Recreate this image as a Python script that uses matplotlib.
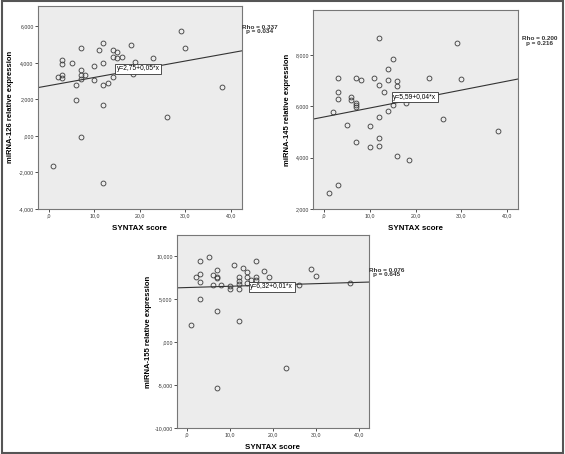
import numpy as np
import matplotlib.pyplot as plt
from matplotlib.patches import Rectangle
from matplotlib.ticker import FuncFormatter

# SYNTAX score vs miRNA relative expression
syntax_126 = [29, 30, 38, 26, 23, 18, 19, 18.5, 12, 11, 7, 14, 15, 14, 15, 16, 12, 5,
              3, 3, 3, 3, 2, 10, 7, 7, 8, 7, 10, 14, 13, 12, 6, 6, 12, 7, 1, 12]
mir_126 = [5.72, 4.84, 2.66, 1.01, 4.26, 4.99, 4.02, 3.40, 5.08, 4.70, 4.83, 4.68, 4.59,
           4.31, 4.26, 4.33, 4.00, 3.98, 4.13, 3.93, 3.36, 3.17, 3.21, 3.80, 3.60, 3.36,
           3.32, 3.10, 3.08, 3.25, 2.88, 2.77, 2.77, 1.98, 1.71, -0.06, -1.65, -2.59]

syntax_145 = [12, 29, 15, 14, 3, 7, 8, 11, 14, 16, 23, 30, 12, 16, 13, 3, 3, 6, 6, 7,
              7, 7, 18, 15, 2, 14, 12, 26, 5, 10, 38, 12, 7, 10, 12, 16, 18.5, 3, 1]
mir_145 = [8.68, 8.49, 7.87, 7.48, 7.10, 7.13, 7.04, 7.13, 7.04, 7.01, 7.13, 7.09, 6.84,
           6.80, 6.58, 6.58, 6.30, 6.36, 6.27, 6.12, 6.05, 5.99, 6.12, 6.04, 5.78, 5.81,
           5.58, 5.52, 5.26, 5.22, 5.06, 4.75, 4.63, 4.42, 4.44, 4.05, 3.90, 2.94, 2.62]

syntax_155 = [5, 3, 16, 11, 13, 29, 7, 14, 18, 3, 6, 30, 2, 7, 7, 12, 14, 16, 19, 15,
              16, 12, 3, 14, 12, 38, 6, 8, 10, 10, 12, 26, 3, 7, 1, 12, 23, 7]
mir_155 = [9.81, 9.38, 9.42, 8.88, 8.61, 8.42, 8.34, 8.11, 8.19, 7.84, 7.76, 7.68, 7.50,
           7.57, 7.38, 7.57, 7.57, 7.57, 7.53, 7.18, 7.18, 7.07, 6.95, 6.83, 6.72, 6.83,
           6.60, 6.60, 6.45, 6.14, 6.14, 6.60, 5.00, 3.61, 1.93, 2.47, -3.00, -5.40]

ylabels = ["miRNA-126 relative expression", "miRNA-145 relative expression",
           "miRNA-155 relative expression"]
fit_intercepts = [2.75, 5.59, 6.32]
fit_slopes = [0.045, 0.035, 0.015]
fit_labels = ["y=2,75+0,05*x", "y=5,59+0,04*x", "y=6,32+0,01*x"]
rho_labels = ["Rho = 0.337\np = 0.034", "Rho = 0.200\np = 0.216", "Rho = 0.076\np = 0.645"]
ylims = [(-4, 7.12), (2, 9.77), (-10, 12.4)]
yticks = [[-4, -2, 0, 2, 4, 6], [2, 4, 6, 8], [-10, -5, 0, 5, 10]]
xticks = [0, 10, 20, 30, 40]

plt.rcParams['font.family'] = ['Liberation Sans', 'DejaVu Sans']

fig = plt.figure(figsize=(5.65, 4.54), dpi=100)
fig.patches.append(Rectangle((0.003, 0.003), 0.994, 0.994, transform=fig.transFigure,
                             fill=False, edgecolor='#555555', linewidth=1.5))

# axes rectangles [left, bottom, width, height]
boxes = [[0.067, 0.540, 0.361, 0.447],
         [0.554, 0.540, 0.363, 0.438],
         [0.313, 0.057, 0.340, 0.425]]
box_pos = [(14.9, 3.67), (15.1, 6.36), (14.7, 6.41)]
rho_pos = [(0.46, 0.935), (0.955, 0.91), (0.685, 0.40)]
ylabel_x = [0.019, 0.508, 0.262]


def fmt_y(v, pos):
    # SPSS style: 6,000 / ,000 / -2,000
    s = f"{abs(v):.3f}".replace(".", ",")
    if s.startswith("0"):
        s = s[1:]
    return ("-" if v < 0 else "") + s


def fmt_x(v, pos):
    s = f"{v:.1f}".replace(".", ",")
    if s.startswith("0"):
        s = s[1:]
    return s


data = [(syntax_126, mir_126), (syntax_145, mir_145), (syntax_155, mir_155)]

for i, (xs, ys) in enumerate(data):
    ax = fig.add_axes(boxes[i])
    ax.set_facecolor('#ececec')
    ax.plot(xs, ys, linestyle='none', marker='o', markersize=3.5, markerfacecolor='none',
            markeredgecolor='#3a3a3a', markeredgewidth=0.6)
    xl = np.array([-2.4, 42.4])
    ax.plot(xl, fit_intercepts[i] + fit_slopes[i] * xl, color='#333333', linewidth=0.8)
    ax.set_xlim(-2.4, 42.4)
    ax.set_ylim(*ylims[i])
    ax.set_xticks(xticks)
    ax.set_yticks(yticks[i])
    ax.xaxis.set_major_formatter(FuncFormatter(fmt_x))
    ax.yaxis.set_major_formatter(FuncFormatter(fmt_y))
    ax.tick_params(labelsize=3.8, length=2, width=0.6, pad=1, colors='#333333')
    for sp in ax.spines.values():
        sp.set_color('#777777')
        sp.set_linewidth(0.8)
    ax.set_xlabel("SYNTAX score", fontsize=5.7, fontweight='bold', labelpad=5)
    ax.text(box_pos[i][0], box_pos[i][1], fit_labels[i], fontsize=4.8, va='center', ha='left',
            bbox=dict(boxstyle='square,pad=0.22', facecolor='white', edgecolor='#333333',
                      linewidth=0.6))
    fig.text(ylabel_x[i], boxes[i][1] + boxes[i][3] / 2, ylabels[i], rotation=90,
             fontsize=5.5, fontweight='bold', ha='center', va='center')
    fig.text(rho_pos[i][0], rho_pos[i][1], rho_labels[i], fontsize=4.6, fontweight='bold',
             ha='center', va='center', linespacing=0.95, color='#333333')

fig.savefig("out.png", dpi=100)
